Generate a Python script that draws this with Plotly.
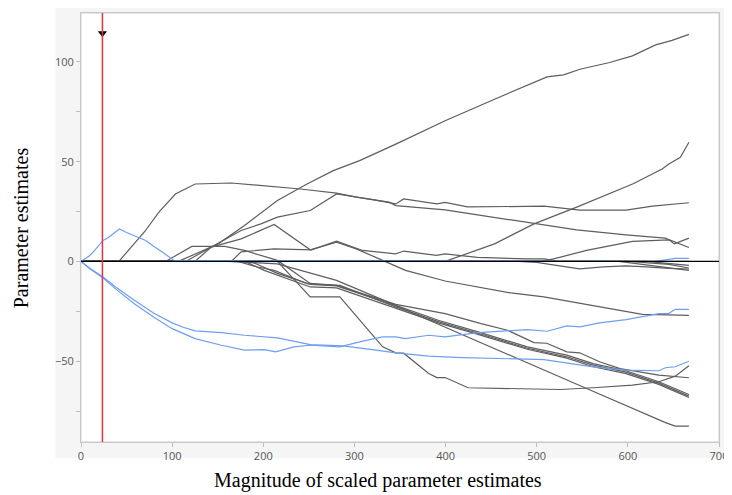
import plotly.graph_objects as go

# ---------------- data ----------------
x_ticks = [0, 100, 200, 300, 400, 500, 600, 700]
y_ticks = [-50, 0, 50, 100]
selected_x = 23.5          # red vertical marker position
marker_y = 114.3           # arrow marker height

# blue paths
blue_up_x = [0, 5, 9.7, 15, 20, 24.2, 30, 36, 42.2, 50, 60, 71.1, 80, 90, 101.8, 560, 600, 630, 641, 652, 667]
blue_up_y = [0, 1.5, 3, 5.5, 8, 10.5, 12, 14, 16.3, 14.5, 12.5, 10.5, 7.5, 4.5, 0.5, 0, 0, 0, 0.8, 1.5, 1.5]

blue_lo_x = [0, 10, 24.2, 40, 58.5, 80, 100, 112, 125.3, 154, 179.4, 215.5, 251.5, 287.7, 323.7, 345.4,
             381.5, 417.6, 508, 533, 562, 598, 634, 641.3, 652, 667]
blue_lo_y = [0, -3.5, -7.8, -13.5, -19.5, -26, -30.8, -33, -34.8, -35.7, -37, -38.3, -41.7, -42.3, -44.5, -45.8,
             -47.5, -48.2, -49.2, -50.8, -52.8, -54.5, -54.8, -53.3, -52.8, -50]

blue_hi_x = [0, 10, 24.2, 40, 58.5, 80, 100, 125.3, 154, 179.4, 201, 213.6, 233.5, 251.5, 284, 305.7, 331,
             345.4, 356, 381.5, 399.5, 435.6, 489.7, 511.5, 533, 547.5, 569, 598, 634, 645, 652, 667]
blue_hi_y = [0, -3.8, -8.3, -14.5, -21.2, -28, -33.7, -38.7, -42, -44.5, -44.2, -45.3, -42.8, -42, -42.8, -40.3,
             -37.8, -37.8, -38.7, -37, -37.8, -35.7, -34.2, -35, -32.3, -32.8, -30.8, -29.2, -26.2, -26, -24, -24]

# grey paths
a_x = [0, 107, 150.5, 179.4, 215.5, 248, 276.8, 305.7, 345.4, 399.5, 453.7, 511.4, 529.5, 547.5, 580, 605, 630.5, 648.5, 667]
a_y = [0, 0, 8.8, 18, 30.5, 38.8, 45.5, 50.5, 58.8, 70.5, 81.3, 92.5, 93.5, 96.3, 99.7, 103, 108.5, 110.8, 113.8]

b_x = [0, 399.5, 453.7, 497, 543.9, 605.2, 637.7, 645, 657.6, 667]
b_y = [0, 0, 8.8, 18.8, 27.2, 38.8, 46.3, 48.8, 52.2, 59.7]

e_x = [0, 41.5, 70, 85.5, 103.6, 125.3, 165, 201, 240.7, 280.4, 302, 338, 345.4, 399.5, 435.6, 489.8, 543.9, 598, 641, 667]
e_y = [0, 0, 15, 24.7, 33.8, 38.8, 39.3, 38, 36.3, 34.2, 32.2, 29.7, 28, 25.8, 23.3, 19.2, 15.8, 13.3, 11.7, 7]

c_x = [0, 115, 150, 175.7, 197.4, 215.5, 251.5, 280.4, 320, 345.4, 354, 375, 390.5, 399.5, 424, 508, 547.5, 598, 627, 667]
c_y = [0, 0, 9, 15.5, 18.8, 22.2, 25.5, 33.8, 31, 28.8, 31.3, 30, 28.8, 29.6, 27.3, 27.7, 25.7, 25.7, 27.7, 29.4]

d_x = [0, 504, 518.6, 554.7, 605, 634, 645, 651, 657, 667]
d_y = [0, 0, 1.3, 5.5, 10, 10.5, 10.8, 8.8, 10, 11.7]

n_x = [0, 165, 175.7, 211.9, 253, 280.4, 309, 345.4, 354, 390, 399.5, 435, 490, 508, 525, 667]
n_y = [0, 0, 4.8, 6.3, 5.8, 10.2, 5.5, 3.8, 5.2, 3, 3.8, 2, 1.3, 1.3, 0, 0]

r_x = [0, 125, 143, 175.7, 211.9, 251.5, 280.4, 302, 331, 356, 399.5, 471.7, 507.8, 562, 616, 645, 667]
r_y = [0, 0, 7.2, 11.3, 18.5, 5.8, 9.7, 6.3, 0.5, -4.5, -9.8, -15.8, -17.8, -22, -26.5, -26.8, -27]

k_x = [0, 92.8, 121.6, 157.7, 179.4, 215.5, 251.5, 280.4, 345.4, 399.5, 439, 468, 497, 511, 533, 547, 569, 591.5, 634, 667]
k_y = [0, 0, 7.5, 7.5, 5.5, 0.5, -11, -12, -21.5, -26.2, -31.2, -34.5, -40.7, -41, -45.3, -45.8, -50.3, -53.7, -57, -58.3]

l1_x = [0, 161, 215.5, 280.4, 345.4, 392, 435.6, 489.7, 533, 562, 598, 634, 667]
l1_y = [0, 0, -1.2, -9.5, -22, -29.5, -35.3, -42.8, -47, -51.2, -54.8, -60.3, -66.7]

l2_x = [0, 172, 193.8, 212, 248, 284, 345.4, 392, 435.6, 489.7, 533, 562, 598, 634, 667]
l2_y = [0, 0, -2.8, -4.5, -11.2, -12, -22.8, -30.2, -36, -43.5, -47.8, -52, -55.5, -61, -67.5]

l3_x = [0, 180, 201, 215.5, 251.5, 280.4, 345.4, 392, 435.6, 489.7, 533, 562, 598, 634, 667]
l3_y = [0, 0, -4.5, -6.8, -12.8, -13.3, -23.5, -30.8, -36.6, -44, -48.5, -52.8, -56.2, -61.6, -68.2]

m_x = [0, 186, 215.5, 251.5, 280.4, 345.4, 554.7, 641.3, 652, 667]
m_y = [0, 0, -6, -11.5, -12.3, -22.2, -63.7, -80.8, -82.5, -82.5]

j_x = [0, 215.5, 251.5, 284, 331, 345.4, 354, 381.5, 390.5, 399.5, 424.7, 525.8, 562, 605, 634, 652, 667]
j_y = [0, 0, -17.8, -17.8, -42.8, -45.8, -46, -56.2, -58.2, -58.2, -63.3, -64.2, -63.3, -62, -60.3, -57.5, -52.3]

s1_x = [0, 480, 500, 547, 573, 598, 620, 645, 667]
s1_y = [0, 0, -0.5, -3.7, -2.7, -2.2, -2.7, -3.5, -3.8]
s2_x = [0, 600, 645, 667]
s2_y = [0, 0, -1.5, -3.3]
s3_x = [0, 620, 667]
s3_y = [0, 0, -2]
s4_x = [0, 590, 667]
s4_y = [0, 0, -4.5]

grey_paths = [(a_x, a_y), (b_x, b_y), (e_x, e_y), (c_x, c_y), (d_x, d_y), (n_x, n_y), (r_x, r_y),
              (k_x, k_y), (l1_x, l1_y), (l2_x, l2_y), (l3_x, l3_y), (m_x, m_y), (j_x, j_y),
              (s1_x, s1_y), (s2_x, s2_y), (s3_x, s3_y), (s4_x, s4_y)]
blue_paths = [(blue_up_x, blue_up_y), (blue_lo_x, blue_lo_y), (blue_hi_x, blue_hi_y)]

# ---------------- figure ----------------
GREY = "#5e5e5e"
BLUE = "#6f9ef0"
fig = go.Figure()
for xs, ys in grey_paths:
    fig.add_trace(go.Scatter(x=xs, y=ys, mode="lines", line=dict(color=GREY, width=1.2),
                             hoverinfo="skip", showlegend=False))
for xs, ys in blue_paths:
    fig.add_trace(go.Scatter(x=xs, y=ys, mode="lines", line=dict(color=BLUE, width=1.2),
                             hoverinfo="skip", showlegend=False))

fig.add_trace(go.Scatter(x=[selected_x], y=[marker_y], mode="markers",
                         marker=dict(symbol="triangle-down", size=8, color="black"),
                         hoverinfo="skip", showlegend=False))

shapes = [
    # light grey frame around the plotting area
    dict(type="rect", xref="paper", yref="paper", x0=-0.0402, x1=1.0077, y0=-0.0372, y1=1.014,
         fillcolor="#f5f5f5", line=dict(width=0), layer="below"),
    dict(type="rect", xref="paper", yref="paper", x0=0, x1=1, y0=0, y1=1,
         fillcolor="white", line=dict(color="#cfcfcf", width=1), layer="below"),
    # zero reference line
    dict(type="line", xref="paper", yref="y", x0=0, x1=1, y0=0, y1=0,
         line=dict(color="black", width=1.3), layer="above"),
    # selected-model red line
    dict(type="line", xref="x", yref="paper", x0=selected_x, x1=selected_x, y0=0, y1=1,
         line=dict(color="#e8323c", width=1.5), layer="above"),
]

tickfont = dict(family="Open Sans, Noto Sans, sans-serif", size=11, color="#555555")
# the page body adds an 8px margin, so the figure is sized/offset to land at the reference position
fig.update_layout(
    width=724, height=487,
    margin=dict(l=73, r=5, t=4, b=53),
    paper_bgcolor="white", plot_bgcolor="white",
    shapes=shapes,
    xaxis=dict(range=[0, 700], tickvals=x_ticks, ticks="outside", ticklen=4, tickcolor="#bdbdbd",
               showline=True, linecolor="#c8c8c8", mirror=True, showgrid=False, zeroline=False,
               tickfont=tickfont, ticklabeloverflow="allow"),
    yaxis=dict(range=[-90.5, 124.5], tickvals=y_ticks, ticks="outside", ticklen=4, tickcolor="#bdbdbd",
               minor=dict(ticks="outside", ticklen=4, dtick=25, tickcolor="#bdbdbd", showgrid=False),
               showline=True, linecolor="#c8c8c8", mirror=True, showgrid=False, zeroline=False,
               tickfont=tickfont),
    annotations=[
        dict(text="Magnitude of scaled parameter estimates", xref="paper", yref="paper",
             x=0.466, y=-0.0907, xanchor="center", yanchor="middle", showarrow=False,
             font=dict(family="Liberation Serif, Times New Roman, serif", size=20, color="black")),
        dict(text="Parameter estimates", xref="paper", yref="paper",
             x=-0.0944, y=0.5, xanchor="center", yanchor="middle", textangle=-90, showarrow=False,
             font=dict(family="Liberation Serif, Times New Roman, serif", size=20, color="black")),
    ],
)

fig.write_html("out.html")
